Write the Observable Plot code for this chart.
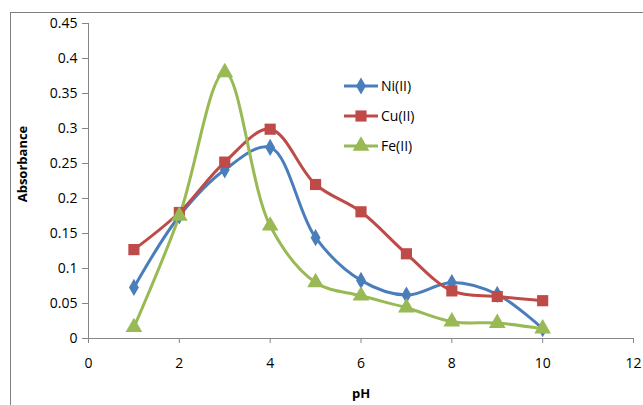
<!DOCTYPE html>
<html>
<head>
<meta charset="utf-8">
<script src="https://cdn.jsdelivr.net/npm/d3@7"></script>
<script src="https://cdn.jsdelivr.net/npm/@observablehq/plot@0.6"></script>
<style>
  body { margin: 0; background: #fff; }
  #wrap { position: relative; width: 643px; height: 405px; overflow: hidden; }
  #frame { position: absolute; left: 10px; top: 12px; width: 700px; height: 500px;
           border-top: 1.5px solid #7f7f7f; border-left: 1.5px solid #7f7f7f; pointer-events: none; }
</style>
</head>
<body>
<div id="wrap"><div id="frame"></div></div>
<script>
const pH = [1, 2, 3, 4, 5, 6, 7, 8, 9, 10];
const ni = [0.073, 0.175, 0.241, 0.273, 0.144, 0.083, 0.062, 0.080, 0.063, 0.014];
const cu = [0.127, 0.180, 0.252, 0.299, 0.220, 0.181, 0.121, 0.068, 0.060, 0.054];
const fe = [0.016, 0.175, 0.380, 0.161, 0.080, 0.061, 0.044, 0.024, 0.022, 0.014];
const seriesNames = ["Ni(II)", "Cu(II)", "Fe(II)"];
const seriesColors = ["#4A7EBB", "#BE4B48", "#98B954"];
const seriesSymbols = ["diamond", "square", "triangle"];
const xTicks = [0, 2, 4, 6, 8, 10, 12];
const yTicks = [0, 0.05, 0.1, 0.15, 0.2, 0.25, 0.3, 0.35, 0.4, 0.45];
const yTickLabels = ["0", "0.05", "0.1", "0.15", "0.2", "0.25", "0.3", "0.35", "0.4", "0.45"];

const values = [ni, cu, fe];
const data = [];
values.forEach((arr, s) => arr.forEach((v, i) => data.push({series: seriesNames[s], pH: pH[i], A: v})));

const font = "'Open Sans', 'Liberation Sans', sans-serif";
const axisColor = "#868686";
const tickFont = 14;

const marks = [
  Plot.ruleY([0], {stroke: axisColor, strokeWidth: 1}),
  Plot.ruleX([0], {stroke: axisColor, strokeWidth: 1}),
  Plot.axisY({ticks: yTicks, tickFormat: (d, i) => yTickLabels[i], tickSize: 6, tickPadding: 5,
               stroke: axisColor, fill: "#000", fontSize: tickFont, label: null}),
  Plot.axisX({ticks: xTicks, tickSize: 5, tickPadding: 15, stroke: axisColor, fill: "#000",
              fontSize: tickFont, label: null}),
  Plot.text(["pH"], {frameAnchor: "bottom", dy: 59, text: d => d, fontWeight: "bold", fontSize: 13, fill: "#000"}),
  Plot.text(["Absorbance"], {frameAnchor: "left", textAnchor: "middle", dx: -66, dy: -17, rotate: -90,
                             text: d => d, fontWeight: "bold", fontSize: 13, fill: "#000"})
];
seriesNames.forEach((name, s) => {
  const d = data.filter(r => r.series === name);
  marks.push(Plot.line(d, {x: "pH", y: "A", stroke: seriesColors[s], strokeWidth: 3, curve: "catmull-rom"}));
});
seriesNames.forEach((name, s) => {
  const d = data.filter(r => r.series === name);
  const r = s === 0 ? 5.2 : s === 1 ? 6.3 : 6.2;
  marks.push(Plot.dot(d, {x: "pH", y: "A", symbol: () => seriesSymbols[s], fill: seriesColors[s], stroke: "none", r}));
});

const chart = Plot.plot({
  width: 643,
  height: 405,
  marginLeft: 88,
  marginRight: 10,
  marginTop: 23,
  marginBottom: 67,
  style: {fontFamily: font, background: "transparent", overflow: "visible"},
  x: {domain: [0, 12], axis: null},
  y: {domain: [0, 0.45], axis: null},
  symbol: {domain: seriesSymbols, range: seriesSymbols},
  marks
});
const wrap = document.getElementById("wrap");
wrap.insertBefore(chart, wrap.firstChild);

// legend
const ns = "http://www.w3.org/2000/svg";
const leg = document.createElementNS(ns, "svg");
leg.setAttribute("width", 120);
leg.setAttribute("height", 100);
leg.style.position = "absolute";
leg.style.left = "340px";
leg.style.top = "72px";
seriesNames.forEach((name, s) => {
  const y = 14 + s * 30;
  const g = document.createElementNS(ns, "g");
  const ln = document.createElementNS(ns, "line");
  ln.setAttribute("x1", 4); ln.setAttribute("x2", 38); ln.setAttribute("y1", y); ln.setAttribute("y2", y);
  ln.setAttribute("stroke", seriesColors[s]); ln.setAttribute("stroke-width", 3);
  g.appendChild(ln);
  const sym = document.createElementNS(ns, "path");
  const symType = [d3.symbolDiamond, d3.symbolSquare, d3.symbolTriangle][s];
  const size = [Math.PI * 5.2 * 5.2, Math.PI * 6.3 * 6.3, Math.PI * 6.2 * 6.2][s];
  sym.setAttribute("d", d3.symbol(symType, size)());
  sym.setAttribute("transform", `translate(21,${y})`);
  sym.setAttribute("fill", seriesColors[s]);
  g.appendChild(sym);
  const t = document.createElementNS(ns, "text");
  t.setAttribute("x", 41); t.setAttribute("y", y); t.setAttribute("dy", "0.35em");
  t.setAttribute("font-family", font); t.setAttribute("font-size", tickFont); t.setAttribute("fill", "#000");
  t.textContent = name;
  g.appendChild(t);
  leg.appendChild(g);
});
wrap.appendChild(leg);
</script>
</body>
</html>
